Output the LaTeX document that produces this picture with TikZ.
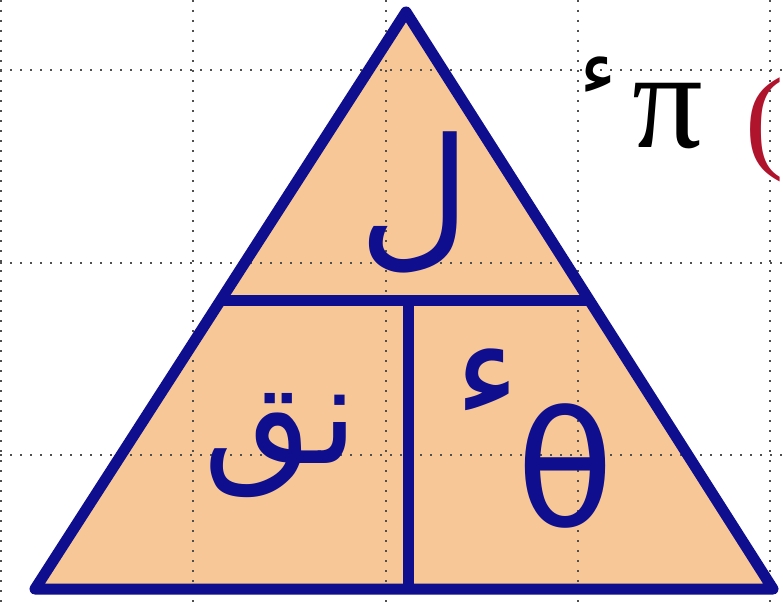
\documentclass[tikz,border=0pt]{standalone}
\usepackage{fontspec}
\newfontfamily\arabicfont[Script=Arabic]{DejaVu Sans}
\newfontfamily\greekfont{DejaVu Sans}
\newfontfamily\serifgr{Liberation Serif}
\TeXXeTstate=1
\definecolor{tri}{RGB}{247,199,151}
\definecolor{ink}{RGB}{14,14,142}
\definecolor{dotc}{RGB}{80,80,80}
\definecolor{parc}{RGB}{176,20,45}
\begin{document}
\begin{tikzpicture}[x=1pt,y=-1pt,
  gridline/.style={dotc, line width=2pt, dash pattern=on 2pt off 8pt},
  edge/.style={ink, line width=11pt, line join=round},
  handtext/.style={ink, inner sep=0pt},
  plaintext/.style={inner sep=0pt}]
\useasboundingbox (0,0) rectangle (783,602);
\clip (0,0) rectangle (783,602);
\fill[white] (0,0) rectangle (783,602);
\coordinate (A) at (406,12);
\coordinate (B) at (35,589);
\coordinate (C) at (773,589);
\coordinate (L) at (221,300);
\coordinate (R) at (589,300);
\coordinate (T) at (408,300);
\coordinate (D) at (408,589);
\fill[tri] (A) -- (B) -- (C) -- cycle;
\foreach \gx in {1,193,386,578,770} \draw[gridline] (\gx,0) -- (\gx,602);
\foreach \gy in {70,263,455} \draw[gridline] (0,\gy) -- (783,\gy);
\draw[edge] (A) -- (B) -- (C) -- cycle;
\draw[edge] (L) -- (R);
\draw[edge] (T) -- (D);
\node[handtext, font=\arabicfont\fontsize{155}{165}\selectfont] (lam) at (415,202) {\beginR ل\endR};
\node[handtext, font=\arabicfont\fontsize{140}{150}\selectfont] (nq) at (281,446) {\beginR نق\endR};
\node[handtext, font=\arabicfont\fontsize{140}{150}\selectfont] (hz1) at (487,383) {\beginR ء\endR};
\node[handtext, font=\greekfont\fontsize{160}{170}\selectfont] (th) at (565,466) {θ};
\node[plaintext, font=\arabicfont\fontsize{80}{90}\selectfont] (hz2) at (598,76) {\beginR ء\endR};
\node[plaintext, font=\serifgr\fontsize{140}{150}\selectfont] (pi) at (668,116) {π};
\node[plaintext, parc, font=\serifgr\fontsize{115}{120}\selectfont, anchor=west] (par) at (745,130) {(};
\end{tikzpicture}
\end{document}
